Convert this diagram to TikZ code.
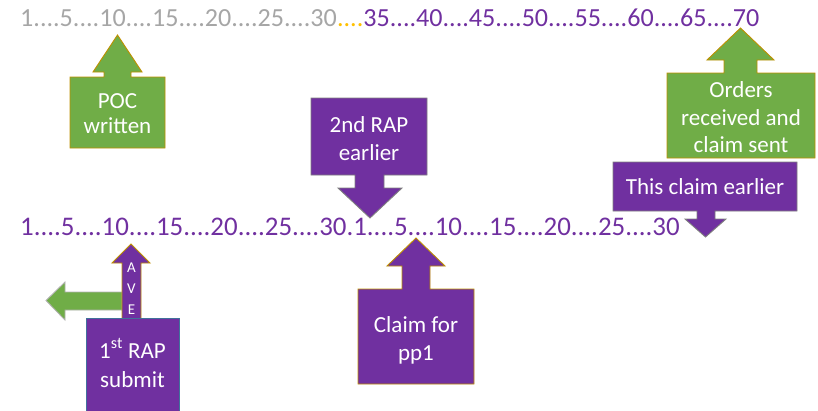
\documentclass[tikz,border=0pt]{standalone}
\usepackage{fontspec}
\setmainfont{Carlito}
\definecolor{pgrey}{HTML}{A6A6A6}
\definecolor{pgold}{HTML}{FFC000}
\definecolor{ppurple}{HTML}{7030A0}
\definecolor{pgreen}{HTML}{70AD47}
\definecolor{goldline}{HTML}{BF9000}
\definecolor{greyline}{HTML}{7F7F7F}
\definecolor{blueline}{HTML}{41719C}
\tikzset{
  numline/.style={anchor=base west, inner sep=0pt, text=ppurple},
  boxtext/.style={anchor=base, inner sep=0pt, font=\fontsize{23}{27}\selectfont, text=white},
  vtext/.style={anchor=center, inner sep=0pt, font=\fontsize{15}{17}\selectfont, text=white},
  greenshape/.style={fill=pgreen, draw=goldline, line width=0.9pt, line join=miter},
  purpleshape/.style={fill=ppurple, draw=goldline, line width=0.9pt, line join=miter},
  purplegrey/.style={fill=ppurple, draw=greyline, line width=0.9pt, line join=miter},
}
\begin{document}
\begin{tikzpicture}[x=1pt,y=-1pt]
\useasboundingbox (0,0) rectangle (818,410);

% number lines
\node[numline, font=\fontsize{26.1}{30}\selectfont] (top) at (20,26) {\textcolor{pgrey}{1....5....10....15....20....25....30}\textcolor{pgold}{....}35....40....45....50....55....60....65....70};
\node[numline, font=\fontsize{26.9}{30}\selectfont] (bottom) at (20,235) {1....5....10....15....20....25....30.1....5....10....15....20....25....30};

% POC written (up callout)
\draw[greenshape] (70,148) -- (70,77) -- (104,77) -- (104,72) -- (93,72) -- (117.5,35) -- (142,72) -- (131,72) -- (131,77) -- (165,77) -- (165,148) -- cycle;
\node[boxtext] (poc1) at (117.5,108) {POC};
\node[boxtext] (poc2) at (117.5,133) {written};

% Orders received and claim sent
\draw[greenshape] (667,158) -- (667,73) -- (724,73) -- (724,60) -- (707,60) -- (740.5,28) -- (774,60) -- (757,60) -- (757,73) -- (815,73) -- (815,158) -- cycle;
\node[boxtext] (ord1) at (741,97) {Orders};
\node[boxtext] (ord2) at (741,125) {received and};
\node[boxtext] (ord3) at (741,152) {claim sent};

% This claim earlier (down callout)
\draw[purplegrey] (613,162) -- (797,162) -- (797,211) -- (715,211) -- (715,219) -- (726,219) -- (705.5,237) -- (685,219) -- (697,219) -- (697,211) -- (613,211) -- cycle;
\node[boxtext] (tce) at (705,194) {This claim earlier};

% 2nd RAP earlier (down callout)
\draw[purplegrey] (311,98) -- (427,98) -- (427,175) -- (384,175) -- (384,188) -- (402,188) -- (370,218) -- (338,188) -- (355,188) -- (355,175) -- (311,175) -- cycle;
\node[boxtext] (rap2a) at (369,132) {2nd RAP};
\node[boxtext] (rap2b) at (369,160) {earlier};

% Claim for pp1 (up callout)
\draw[purpleshape] (358,384) -- (358,289) -- (402,289) -- (402,266) -- (387,266) -- (416,238) -- (445,266) -- (430,266) -- (430,289) -- (474,289) -- (474,384) -- cycle;
\node[boxtext] (cl1) at (416,332) {Claim for};
\node[boxtext] (cl2) at (416,360) {pp1};

% green left arrow
\draw[fill=pgreen, draw=greyline!60, line width=0.9pt] (122,292) -- (65,292) -- (65,282) -- (46,300.5) -- (65,320) -- (65,310) -- (122,310) -- cycle;

% AVE up arrow
\draw[purpleshape] (122,320) -- (122,263) -- (112,263) -- (131,244) -- (150,263) -- (141,263) -- (141,320) -- cycle;
\node[vtext] (va) at (131.5,268) {A};
\node[vtext] (vv) at (131.5,289) {V};
\node[vtext] (ve) at (131.5,310) {E};

% 1st RAP submit box
\draw[fill=ppurple, draw=blueline, line width=0.9pt] (86,318) rectangle (179,413);
\node[boxtext] (rap1a) at (132.5,358) {1\textsuperscript{st} RAP};
\node[boxtext] (rap1b) at (132.5,387) {submit};
\end{tikzpicture}
\end{document}
